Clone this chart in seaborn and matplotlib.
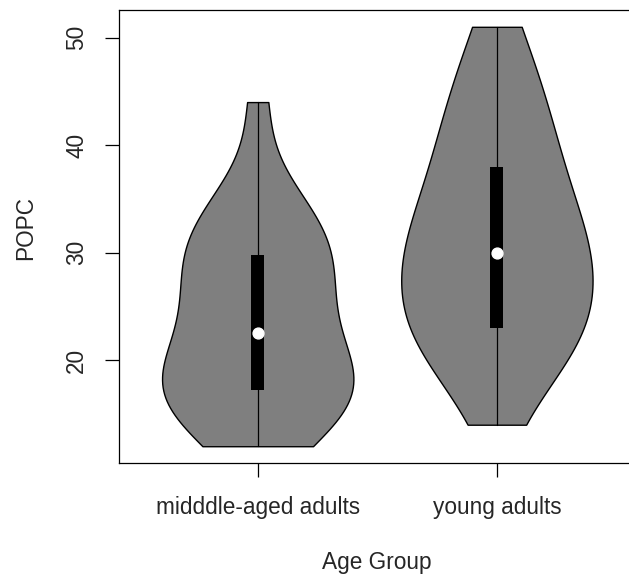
import numpy as np
import pandas as pd
import matplotlib
matplotlib.use("Agg")
import matplotlib.pyplot as plt
import seaborn as sns

# POPC measurements per age group
groups = ["midddle-aged adults", "young adults"]
popc_middle_aged = [12.0, 13.6, 14.4, 15.2, 15.9, 16.6, 17.2, 17.8, 18.4, 19.0,
                    19.8, 21.0, 22.5, 24.0, 25.3, 26.5, 27.6, 28.7, 29.8, 30.8,
                    31.8, 32.8, 33.8, 35.6, 44.0]
popc_young = [14.0, 18.6, 20.2, 21.3, 22.0, 22.6, 23.0, 24.8, 26.2, 27.3,
              28.3, 29.2, 30.0, 31.0, 32.1, 33.3, 34.7, 36.3, 38.0, 39.6,
              41.3, 43.1, 45.2, 47.8, 51.0]
yticks = [20, 30, 40, 50]

df = pd.DataFrame({
    "Age Group": [groups[0]] * len(popc_middle_aged) + [groups[1]] * len(popc_young),
    "POPC": popc_middle_aged + popc_young,
})

sns.set_style("white")
plt.rcParams["font.family"] = ["Liberation Sans", "DejaVu Sans"]
FS = 16.3

fig = plt.figure(figsize=(6.29, 5.78), dpi=100)
ax = fig.add_axes([0.1892, 0.19896, 0.8213, 0.7837])

sns.violinplot(data=df, x="Age Group", y="POPC", order=groups, ax=ax,
               cut=0, density_norm="width", width=0.8, inner=None,
               color="#7f7f7f", saturation=1, linecolor="black",
               linewidth=1.0, bw_adjust=1.0)

# inner boxplot: full-range whisker, black IQR box, white median dot
for i, vals in enumerate([popc_middle_aged, popc_young]):
    lo, q1, med, q3, hi = np.percentile(vals, [0, 25, 50, 75, 100])
    ax.plot([i, i], [lo, hi], color="black", lw=0.9, zorder=3)
    ax.bar(i, q3 - q1, bottom=q1, width=0.055, color="black",
           edgecolor="black", linewidth=0, zorder=4)
    ax.plot([i], [med], marker="o", ms=7.8, color="white", mec="white", zorder=5)

ax.set_xlim(-0.58, 1.58)
ax.set_ylim(10.44, 52.56)
ax.set_yticks(yticks)
ax.set_yticklabels([str(t) for t in yticks])

for sp in ax.spines.values():
    sp.set_color("black")
    sp.set_linewidth(0.9)
    sp.set_visible(True)

ax.tick_params(axis="both", which="major", length=10, width=0.9, color="black",
               labelsize=FS, direction="out", bottom=True, left=True)
ax.tick_params(axis="x", pad=14)
ax.tick_params(axis="y", pad=15.8)
for lab in ax.get_yticklabels():
    lab.set_rotation(90)
    lab.set_rotation_mode("anchor")
    lab.set_ha("center")
    lab.set_va("baseline")

ax.set_xlabel("Age Group", fontsize=FS)
ax.set_ylabel("POPC", fontsize=FS)
ax.xaxis.label.set_va("baseline")
ax.xaxis.set_label_coords(0.5, -0.234)
ax.yaxis.label.set_va("baseline")
ax.yaxis.set_label_coords(-0.168, 0.519)

fig.savefig("out.png", dpi=100, facecolor="white")
